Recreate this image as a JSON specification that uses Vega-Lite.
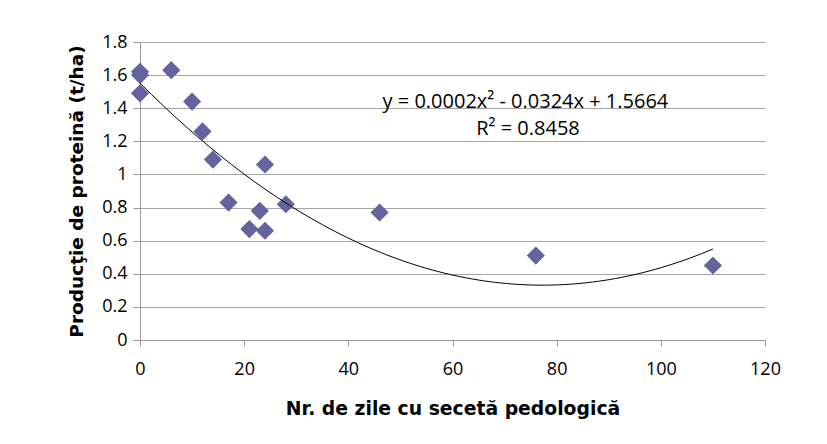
{
  "$schema": "https://vega.github.io/schema/vega-lite/v6.json",
  "width": 625,
  "height": 298,
  "autosize": {"type": "none"},
  "padding": {"left": 140, "top": 42, "right": 62, "bottom": 104},
  "background": "white",
  "config": {
    "view": {"stroke": null},
    "axis": {
      "labelFont": "Open Sans",
      "labelFontSize": 18,
      "labelColor": "#000000",
      "labelOverlap": false,
      "labelFlush": false,
      "titleFont": "DejaVu Sans",
      "titleFontWeight": "bold",
      "titleColor": "#000000",
      "domainColor": "#999999",
      "tickColor": "#999999",
      "gridColor": "#a6a6a6",
      "gridWidth": 1
    }
  },
  "data": {
    "values": [
      {"zile": 0, "productie": 1.62},
      {"zile": 0, "productie": 1.60},
      {"zile": 0, "productie": 1.49},
      {"zile": 6, "productie": 1.63},
      {"zile": 10, "productie": 1.44},
      {"zile": 12, "productie": 1.26},
      {"zile": 14, "productie": 1.09},
      {"zile": 17, "productie": 0.83},
      {"zile": 21, "productie": 0.67},
      {"zile": 23, "productie": 0.78},
      {"zile": 24, "productie": 0.66},
      {"zile": 24, "productie": 1.06},
      {"zile": 28, "productie": 0.82},
      {"zile": 46, "productie": 0.77},
      {"zile": 76, "productie": 0.51},
      {"zile": 110, "productie": 0.45}
    ]
  },
  "layer": [
    {
      "mark": {"type": "point", "shape": "diamond", "filled": true, "size": 330, "color": "#64639f", "opacity": 1},
      "encoding": {
        "x": {
          "field": "zile", "type": "quantitative",
          "scale": {"domain": [0, 120], "nice": false, "zero": true},
          "axis": {
            "values": [0, 20, 40, 60, 80, 100, 120],
            "tickCount": 7,
            "grid": false,
            "tickSize": 6,
            "labelPadding": 14,
            "title": "Nr. de zile cu secetă pedologică",
            "titleFontSize": 18.8,
            "titlePadding": 21
          }
        },
        "y": {
          "field": "productie", "type": "quantitative",
          "scale": {"domain": [0, 1.8], "nice": false},
          "axis": {
            "values": [0, 0.2, 0.4, 0.6, 0.8, 1, 1.2, 1.4, 1.6, 1.8],
            "tickCount": 10,
            "format": ".1~f",
            "grid": true,
            "tickSize": 7,
            "labelPadding": 6,
            "title": "Producţie de proteină (t/ha)",
            "titleFontSize": 18.5,
            "titlePadding": 15
          }
        }
      }
    },
    {
      "transform": [
        {"regression": "productie", "on": "zile", "method": "poly", "order": 2, "extent": [0, 110]}
      ],
      "mark": {"type": "line", "color": "#000000", "strokeWidth": 1, "interpolate": "monotone"},
      "encoding": {
        "x": {"field": "zile", "type": "quantitative"},
        "y": {"field": "productie", "type": "quantitative"}
      }
    },
    {
      "data": {"values": [{"eticheta": "y = 0.0002x² - 0.0324x + 1.5664"}]},
      "mark": {"type": "text", "font": "Open Sans", "fontSize": 20, "color": "#000000", "align": "center", "baseline": "middle"},
      "encoding": {
        "x": {"datum": 74},
        "y": {"datum": 1.44},
        "text": {"field": "eticheta"}
      }
    },
    {
      "data": {"values": [{"eticheta": "R² = 0.8458"}]},
      "mark": {"type": "text", "font": "Open Sans", "fontSize": 20, "color": "#000000", "align": "center", "baseline": "middle"},
      "encoding": {
        "x": {"datum": 74.5},
        "y": {"datum": 1.275},
        "text": {"field": "eticheta"}
      }
    }
  ]
}
